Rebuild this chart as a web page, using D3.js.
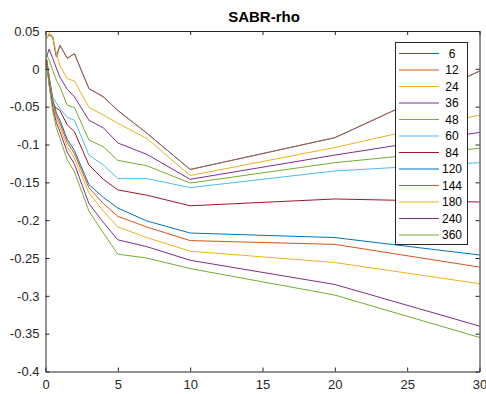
<!DOCTYPE html>
<html>
<head>
<meta charset="utf-8">
<script src="https://cdn.jsdelivr.net/npm/d3@7"></script>
<style>
  html, body { margin: 0; padding: 0; background: #fff; }
  svg { display: block; }
  text { font-family: "Liberation Sans", Arial, Helvetica, sans-serif; }
</style>
</head>
<body>
<svg id="chart" width="486" height="394"></svg>
<script>
// ---- data ----
const title = "SABR-rho";
const expiries = [1/12, 0.25, 0.5, 0.75, 1, 1.5, 2, 3, 4, 5, 7, 10, 20, 30];
const seriesNames = ["6", "12", "24", "36", "48", "60", "84", "120", "144", "180", "240", "360"];
const s6   = [0.041, 0.045, 0.042, 0.016, 0.031, 0.014, 0.020, -0.026, -0.037, -0.055, -0.085, -0.133, -0.091, -0.003];
const s12  = [0.041, 0.045, 0.042, 0.016, 0.031, 0.014, 0.020, -0.026, -0.037, -0.055, -0.085, -0.133, -0.091, -0.003];
const s24  = [0.040, 0.048, 0.043, 0.020, 0.004, -0.013, -0.016, -0.051, -0.061, -0.072, -0.092, -0.141, -0.104, -0.061];
const s36  = [0.016, 0.026, 0.014, 0.001, -0.011, -0.027, -0.037, -0.068, -0.078, -0.098, -0.113, -0.146, -0.114, -0.084];
const s48  = [0.018, 0.012, -0.002, -0.015, -0.024, -0.048, -0.051, -0.094, -0.103, -0.121, -0.128, -0.151, -0.124, -0.105];
const s60  = [0.012, -0.012, -0.037, -0.045, -0.052, -0.064, -0.068, -0.114, -0.127, -0.145, -0.145, -0.157, -0.135, -0.124];
const s84  = [0.010, -0.020, -0.046, -0.052, -0.055, -0.074, -0.083, -0.127, -0.146, -0.160, -0.167, -0.181, -0.172, -0.176];
const s120 = [0.012, -0.010, -0.040, -0.058, -0.068, -0.093, -0.108, -0.153, -0.170, -0.184, -0.201, -0.217, -0.223, -0.246];
const s144 = [0.012, -0.012, -0.043, -0.062, -0.072, -0.097, -0.112, -0.157, -0.178, -0.195, -0.209, -0.227, -0.232, -0.262];
const s180 = [0.010, -0.015, -0.047, -0.066, -0.077, -0.103, -0.118, -0.164, -0.188, -0.209, -0.223, -0.241, -0.256, -0.284];
const s240 = [0.008, -0.018, -0.051, -0.071, -0.083, -0.110, -0.126, -0.178, -0.203, -0.226, -0.235, -0.253, -0.285, -0.340];
const s360 = [0.005, -0.022, -0.056, -0.078, -0.092, -0.120, -0.136, -0.188, -0.217, -0.245, -0.250, -0.264, -0.299, -0.355];
const seriesValues = [s6, s12, s24, s36, s48, s60, s84, s120, s144, s180, s240, s360];
const xTicks = [0, 5, 10, 15, 20, 25, 30];
const yTicks = [0.05, 0, -0.05, -0.1, -0.15, -0.2, -0.25, -0.3, -0.35, -0.4];
const yTickLabels = ["0.05", "0", "-0.05", "-0.1", "-0.15", "-0.2", "-0.25", "-0.3", "-0.35", "-0.4"];
const palette = ["#0072BD", "#D95319", "#EDB120", "#7E2F8E", "#77AC30", "#4DBEEE", "#A2142F"];

// ---- layout ----
const svg = d3.select("#chart");
const plot = { left: 45.5, right: 479.5, top: 31, bottom: 371.5 };
const x = d3.scaleLinear().domain([0, 30]).range([plot.left, plot.right]);
const y = d3.scaleLinear().domain([-0.4, 0.05]).range([plot.bottom, plot.top]);
const axisColor = "#262626";
const tickLen = 4;

// lines
const line = d3.line().x((d, i) => x(expiries[i])).y(d => y(d));
const gLines = svg.append("g");
seriesValues.forEach((vals, k) => {
  gLines.append("path")
    .datum(vals)
    .attr("d", line)
    .attr("fill", "none")
    .attr("stroke", palette[k % palette.length])
    .attr("stroke-width", 1)
    .attr("stroke-opacity", k === 1 ? 0.8 : 1)
    .attr("stroke-linejoin", "round");
});

// axes (box on)
const fmtY = v => yTickLabels[yTicks.indexOf(v)];
const axB = d3.axisBottom(x).tickValues(xTicks).tickSizeInner(-tickLen).tickSizeOuter(0).tickPadding(8);
const axT = d3.axisTop(x).tickValues(xTicks).tickSizeInner(-tickLen).tickSizeOuter(0).tickFormat("");
const axL = d3.axisLeft(y).tickValues(yTicks).tickSizeInner(-tickLen).tickSizeOuter(0).tickPadding(6).tickFormat(fmtY);
const axR = d3.axisRight(y).tickValues(yTicks).tickSizeInner(-tickLen).tickSizeOuter(0).tickFormat("");

function style(g) {
  g.select(".domain").attr("stroke", axisColor);
  g.selectAll(".tick line").attr("stroke", axisColor);
  g.selectAll(".tick text").attr("fill", axisColor).style("font-size", "13px")
    .style("font-family", "'Liberation Sans', Arial, sans-serif");
}
svg.append("g").attr("transform", `translate(0,${plot.bottom})`).call(axB).call(style);
svg.append("g").attr("transform", `translate(0,${plot.top})`).call(axT).call(style);
svg.append("g").attr("transform", `translate(${plot.left},0)`).call(axL).call(style);
svg.append("g").attr("transform", `translate(${plot.right},0)`).call(axR).call(style);

// title
svg.append("text")
  .attr("x", 264)
  .attr("y", 22)
  .attr("text-anchor", "middle")
  .style("font-size", "15px")
  .style("font-weight", "bold")
  .attr("fill", "#000")
  .text(title);

// legend
const lg = { left: 395.5, right: 467.5, top: 42.5, bottom: 244.5, first: 53.5, step: 16.5 };
const gl = svg.append("g");
gl.append("rect")
  .attr("x", lg.left).attr("y", lg.top)
  .attr("width", lg.right - lg.left).attr("height", lg.bottom - lg.top)
  .attr("fill", "#fff").attr("stroke", axisColor).attr("stroke-width", 1);
seriesNames.forEach((name, k) => {
  const yy = lg.first + k * lg.step;
  gl.append("line")
    .attr("x1", 399).attr("x2", 439).attr("y1", yy).attr("y2", yy)
    .attr("stroke", palette[k % palette.length]).attr("stroke-width", 1);
  gl.append("text")
    .attr("x", 452).attr("y", yy + 4)
    .attr("text-anchor", "middle")
    .style("font-size", "12px")
    .attr("fill", "#000")
    .text(name);
});
</script>
</body>
</html>
